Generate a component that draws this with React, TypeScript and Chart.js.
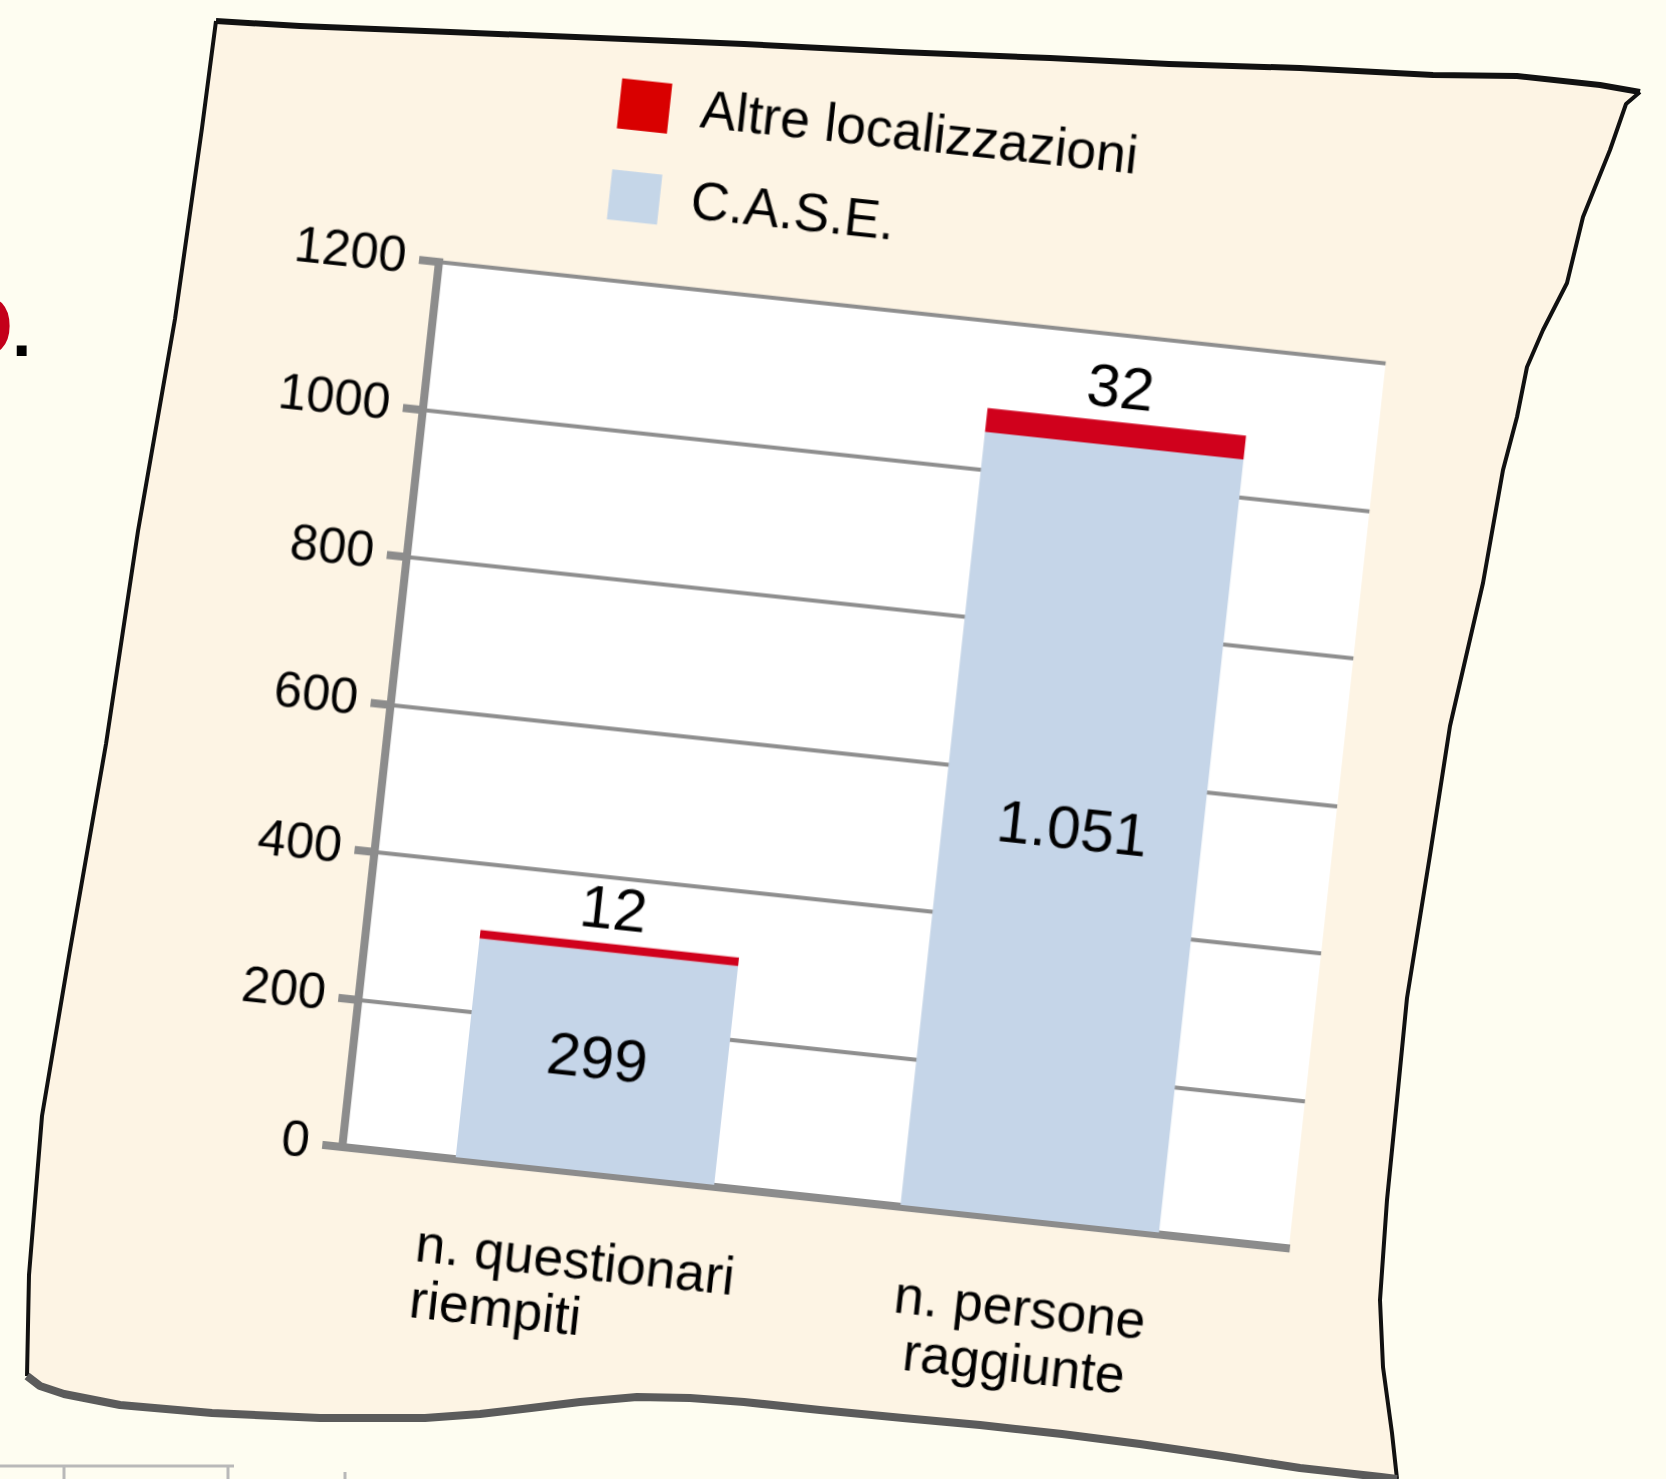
import React, { useEffect, useRef } from 'react';
import { Chart, registerables } from 'chart.js';

Chart.register(...registerables);

// ---- data ----
const categories: string[][] = [
  ['n. questionari', 'riempiti'],
  ['n. persone', 'raggiunte'],
];
const categoryPositions = [0, 1];
const seriesNames = ['C.A.S.E.', 'Altre localizzazioni'];
const caseValues = [299, 1051];
const altreValues = [12, 32];
const yTickValues = [0, 200, 400, 600, 800, 1000, 1200];
const seriesColors = ['#c5d5e8', '#d0011c'];
const legendColors = ['#c5d6e8', '#d90000'];

// ---- style ----
const FONT = '"Liberation Sans", Arial, Helvetica, sans-serif';
const AXIS = '#8c8c8c';
const GRID = '#8e8e8e';
const CANVAS_W = 1120;
const CANVAS_H = 1400;
const AREA_LEFT = 155;
const AREA_TOP = 290;
const TARGET_X = 438.8;
const TARGET_Y = 262.4;
const XLABEL_SIZE = 53;

const fmt = (v: number) => String(v).replace(/\B(?=(\d{3})+(?!\d))/g, '.');

// pad the second line of the first label so that it lines up with the start of the first line
const measureCtx = typeof document !== 'undefined' ? document.createElement('canvas').getContext('2d') : null;
function leftAlignLines(lines: string[]): string[] {
  if (!measureCtx) return lines;
  measureCtx.font = `${XLABEL_SIZE}px ${FONT}`;
  const w0 = measureCtx.measureText(lines[0]).width;
  let second = lines[1];
  let guard = 0;
  while (measureCtx.measureText(second + ' ').width <= w0 && guard < 60) {
    second += ' ';
    guard++;
  }
  return [lines[0], second];
}

const plotBgPlugin = {
  id: 'plotBg',
  beforeDraw(chart: any) {
    const { ctx, chartArea } = chart;
    ctx.save();
    ctx.fillStyle = '#ffffff';
    ctx.fillRect(chartArea.left, chartArea.top, chartArea.right - chartArea.left, chartArea.bottom - chartArea.top);
    ctx.restore();
  },
};

const sideLegendPlugin = {
  id: 'sideLegend',
  afterDraw(chart: any, _args: any, opts: any) {
    const { ctx, chartArea } = chart;
    const ds = chart.data.datasets.map((d: any, i: number) => ({ label: d.label, color: legendColors[i] }));
    const items = ds.reverse();
    ctx.save();
    ctx.font = `${opts.fontSize}px ${FONT}`;
    ctx.textBaseline = 'middle';
    ctx.textAlign = 'left';
    items.forEach((it: any, i: number) => {
      const cy = chartArea.top + opts.top + i * opts.rowGap;
      const x0 = chartArea.left + opts.left;
      ctx.fillStyle = it.color;
      ctx.fillRect(x0, cy - opts.box / 2, opts.box, opts.box);
      ctx.fillStyle = '#000';
      ctx.fillText(it.label, x0 + opts.box + opts.gap, cy);
    });
    ctx.restore();
  },
};

const barValuesPlugin = {
  id: 'barValues',
  afterDatasetsDraw(chart: any, _args: any, opts: any) {
    const { ctx } = chart;
    ctx.save();
    ctx.font = `${opts.fontSize}px ${FONT}`;
    ctx.fillStyle = '#000';
    ctx.textAlign = 'center';
    ctx.textBaseline = 'middle';
    const base = chart.getDatasetMeta(0);
    base.data.forEach((el: any, i: number) => {
      const p = el.getProps(['x', 'y', 'base'], true);
      ctx.fillText(fmt(caseValues[i]), p.x, (p.y + p.base) / 2);
    });
    const top = chart.getDatasetMeta(1);
    top.data.forEach((el: any, i: number) => {
      const p = el.getProps(['x', 'y'], true);
      ctx.fillText(fmt(altreValues[i]), p.x, p.y - opts.above);
    });
    ctx.restore();
  },
};

function BarChart() {
  const ref = useRef<HTMLCanvasElement | null>(null);
  useEffect(() => {
    if (!ref.current) return;
    const chart = new Chart(ref.current, {
      type: 'bar',
      data: {
        datasets: [
          {
            label: seriesNames[0],
            data: caseValues.map((v, i) => ({ x: categoryPositions[i], y: v })),
            backgroundColor: seriesColors[0],
            borderWidth: 0,
            barPercentage: 0.581,
            categoryPercentage: 1,
          },
          {
            label: seriesNames[1],
            data: altreValues.map((v, i) => ({ x: categoryPositions[i], y: v })),
            backgroundColor: seriesColors[1],
            borderWidth: 0,
            barPercentage: 0.581,
            categoryPercentage: 1,
          },
        ] as any,
      },
      options: {
        responsive: false,
        animation: false,
        devicePixelRatio: 1,
        layout: { padding: { top: AREA_TOP, left: 0, right: 20, bottom: 40 } },
        plugins: {
          legend: { display: false },
          tooltip: { enabled: false },
          sideLegend: { left: 161, top: -176, rowGap: 91, box: 50, gap: 31, fontSize: 53 },
          barValues: { fontSize: 60, above: 31 },
        } as any,
        scales: {
          x: {
            type: 'linear',
            stacked: true,
            offset: false,
            min: -0.545,
            max: 1.583,
            afterBuildTicks: (s: any) => {
              s.ticks = categoryPositions.map((v) => ({ value: v }));
            },
            grid: { display: false },
            border: { display: true, color: AXIS, width: 8 },
            ticks: {
              color: '#000',
              font: { family: FONT, size: XLABEL_SIZE, lineHeight: 1.05 },
              padding: 55,
              maxRotation: 0,
              minRotation: 0,
              autoSkip: false,
              callback: (_v: any, i: number) => (i === 0 ? leftAlignLines(categories[i]) : categories[i]),
            },
            afterFit: (s: any) => {
              s.height = 185;
            },
          },
          y: {
            stacked: true,
            min: 0,
            max: 1200,
            afterBuildTicks: (s: any) => {
              s.ticks = yTickValues.map((v) => ({ value: v }));
            },
            ticks: {
              color: '#000',
              font: { family: FONT, size: 50 },
              padding: 13,
              callback: (v: any) => String(v),
            },
            grid: {
              color: GRID,
              lineWidth: 4,
              drawTicks: true,
              tickLength: 20,
              tickWidth: 8,
              tickColor: AXIS,
            },
            border: { display: true, color: AXIS, width: 8 },
            afterFit: (s: any) => {
              s.width = AREA_LEFT;
            },
          },
        } as any,
      },
      plugins: [plotBgPlugin, sideLegendPlugin, barValuesPlugin],
    });
    return () => chart.destroy();
  }, []);

  return (
    <canvas
      ref={ref}
      width={CANVAS_W}
      height={CANVAS_H}
      style={{
        position: 'absolute',
        left: TARGET_X - AREA_LEFT,
        top: TARGET_Y - AREA_TOP,
        width: CANVAS_W,
        height: CANVAS_H,
        transformOrigin: `${AREA_LEFT}px ${AREA_TOP}px`,
        transform: 'matrix(1.0017, 0.1073, -0.1093, 1.0, 0, 0)',
      }}
    />
  );
}

const leftEdge = [
  [27, 1376], [29, 1275], [42, 1116], [69, 956], [106, 744], [138, 531], [175, 319], [202, 128], [216, 21],
];
const topEdge = [
  [216, 21], [300, 26], [450, 32], [600, 38], [744, 44], [900, 52], [1050, 58], [1169, 64], [1300, 68],
  [1433, 75], [1517, 76], [1600, 85], [1640, 92],
];
const rightEdge = [
  [1640, 92], [1626, 104], [1610, 150], [1583, 217], [1567, 283], [1543, 330], [1527, 367], [1517, 417],
  [1503, 470], [1483, 583], [1450, 726], [1430, 855], [1407, 998], [1397, 1100], [1387, 1200], [1380, 1300],
  [1383, 1367], [1392, 1433], [1397, 1479],
];
const bottomEdge = [
  [1397, 1479], [1381, 1477], [1300, 1468], [1222, 1456], [1140, 1444], [1062, 1434], [980, 1425], [903, 1418],
  [820, 1410], [744, 1402], [690, 1398], [637, 1397], [580, 1402], [531, 1408], [480, 1414], [425, 1418],
  [320, 1418], [212, 1413], [120, 1405], [64, 1394], [40, 1386], [27, 1376],
];

const pts = (a: number[][]) => a.map((p) => p.join(',')).join(' ');

export default function App() {
  const fill = [...leftEdge, ...topEdge.slice(1), ...rightEdge.slice(1), ...bottomEdge.slice(1)];
  return (
    <div
      style={{
        position: 'absolute',
        left: 0,
        top: 0,
        width: 1666,
        height: 1479,
        overflow: 'hidden',
        background: '#fefdf1',
      }}
    >
      <svg width={1666} height={1479} style={{ position: 'absolute', left: 0, top: 0 }}>
        <polygon points={pts(fill)} fill="#fdf4e4" />
        <polyline points={pts(leftEdge)} fill="none" stroke="#111" strokeWidth={4} strokeLinejoin="round" />
        <polyline points={pts(topEdge)} fill="none" stroke="#111" strokeWidth={6} strokeLinejoin="round" />
        <polyline points={pts(rightEdge)} fill="none" stroke="#111" strokeWidth={4} strokeLinejoin="round" />
        <polyline points={pts(bottomEdge)} fill="none" stroke="#5b5b5b" strokeWidth={8} strokeLinejoin="round" />
        <line x1={0} y1={1466} x2={234} y2={1466} stroke="#b9b9b9" strokeWidth={3} />
        <line x1={64} y1={1466} x2={64} y2={1479} stroke="#b9b9b9" strokeWidth={3} />
        <line x1={228} y1={1466} x2={228} y2={1479} stroke="#b9b9b9" strokeWidth={3} />
        <line x1={345} y1={1472} x2={345} y2={1479} stroke="#b9b9b9" strokeWidth={3} />
        <text x={-55} y={356} fontSize={113} fontWeight="bold" fill="#c4001a" fontFamily={FONT}>o</text>
        <text x={12} y={356} fontSize={70} fontWeight="bold" fill="#000" fontFamily={FONT}>.</text>
      </svg>
      <BarChart />
    </div>
  );
}
